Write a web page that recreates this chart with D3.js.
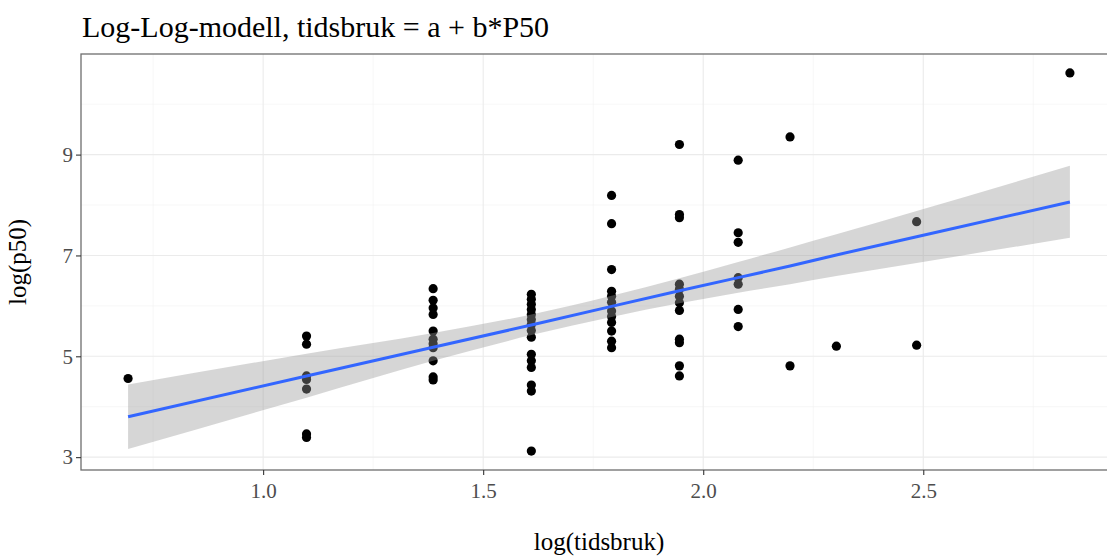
<!DOCTYPE html>
<html>
<head>
<meta charset="utf-8">
<script src="https://cdn.jsdelivr.net/npm/d3@7"></script>
<style>
  body { margin: 0; background: #fff; }
  svg { font-family: "Liberation Serif", "Times New Roman", serif; }
</style>
</head>
<body>
<svg></svg>
<script>
// tidsbruk (minutter) per gruppe, og log(p50) lest av figuren
let tidsbruk = [2, 3, 4, 5, 6, 7, 8, 9, 10, 12, 17];
let logP50 = [
  [4.56],
  [5.40, 5.24, 4.61, 4.54, 4.35, 3.46, 3.39],
  [6.34, 6.11, 5.96, 5.83, 5.50, 5.34, 5.25, 5.17, 4.91, 4.59, 4.53],
  [6.23, 6.13, 6.03, 5.93, 5.83, 5.73, 5.63, 5.51, 5.38, 5.04, 4.91, 4.78, 4.43, 4.31, 3.12],
  [8.19, 7.63, 6.72, 6.29, 6.19, 6.07, 5.90, 5.79, 5.67, 5.50, 5.30, 5.17],
  [9.20, 7.81, 7.75, 6.43, 6.33, 6.19, 6.06, 5.91, 5.34, 5.27, 4.81, 4.61],
  [8.89, 7.45, 7.26, 6.56, 6.43, 5.93, 5.59],
  [9.35, 4.81],
  [5.20],
  [7.67, 5.22],
  [10.62],
];

// regresjonslinje og konfidensbånd, lest av ved hver tidsbruk-gruppe
let fitY = [3.80, 4.61, 5.18, 5.62, 5.99, 6.30, 6.56, 6.79, 7.01, 7.37, 8.06];
let bandLo = [3.16, 4.18, 4.91, 5.42, 5.78, 6.05, 6.26, 6.43, 6.59, 6.85, 7.35];
let bandHi = [4.44, 5.05, 5.46, 5.83, 6.20, 6.55, 6.87, 7.16, 7.42, 7.88, 8.78];

let xTicks = [1.0, 1.5, 2.0, 2.5];
let yTicks = [3, 5, 7, 9];
let xMinor = [0.75, 1.25, 1.75, 2.25, 2.75];
let yMinor = [4, 6, 8, 10];

let title = "Log-Log-modell, tidsbruk = a + b*P50";
let xTitle = "log(tidsbruk)";
let yTitle = "log(p50)";

let width = 1107;
let height = 559;
let panelLeft = 81;
let panelRight = 1117;
let panelTop = 54;
let panelBottom = 470;

let values = [];
tidsbruk.forEach((t, i) => {
  logP50[i].forEach((v) => values.push({ x: Math.log(t), y: v }));
});
let fit = tidsbruk.map((t, i) => ({
  x: Math.log(t),
  y: fitY[i],
  lo: bandLo[i],
  hi: bandHi[i],
}));

let svg = d3.select("svg").attr("width", width).attr("height", height);

let expand = (ext) => {
  let pad = (ext[1] - ext[0]) * 0.05;
  return [ext[0] - pad, ext[1] + pad];
};

let xScale = d3
  .scaleLinear()
  .domain(expand(d3.extent(values, (d) => d.x)))
  .range([panelLeft, panelRight]);
let yScale = d3
  .scaleLinear()
  .domain(expand(d3.extent(values, (d) => d.y)))
  .range([panelBottom, panelTop]);

let grid = svg.append("g");

let vLines = (data, color, w) => {
  grid
    .append("g")
    .selectAll("line")
    .data(data)
    .enter()
    .append("line")
    .attr("x1", (d) => xScale(d))
    .attr("x2", (d) => xScale(d))
    .attr("y1", panelTop)
    .attr("y2", panelBottom)
    .attr("stroke", color)
    .attr("stroke-width", w);
};
let hLines = (data, color, w) => {
  grid
    .append("g")
    .selectAll("line")
    .data(data)
    .enter()
    .append("line")
    .attr("x1", panelLeft)
    .attr("x2", panelRight)
    .attr("y1", (d) => yScale(d))
    .attr("y2", (d) => yScale(d))
    .attr("stroke", color)
    .attr("stroke-width", w);
};
vLines(xMinor, "#f2f2f2", 0.6);
hLines(yMinor, "#f2f2f2", 0.6);
vLines(xTicks, "#ebebeb", 1.1);
hLines(yTicks, "#ebebeb", 1.1);

svg
  .append("g")
  .selectAll("circle")
  .data(values)
  .enter()
  .append("circle")
  .attr("cx", (d) => xScale(d.x))
  .attr("cy", (d) => yScale(d.y))
  .attr("r", 4.6)
  .attr("fill", "#000");

svg
  .append("path")
  .datum(fit)
  .attr(
    "d",
    d3
      .area()
      .curve(d3.curveMonotoneX)
      .x((d) => xScale(d.x))
      .y0((d) => yScale(d.lo))
      .y1((d) => yScale(d.hi))
  )
  .attr("fill", "#999999")
  .attr("fill-opacity", 0.4);

svg
  .append("path")
  .datum(fit)
  .attr(
    "d",
    d3
      .line()
      .x((d) => xScale(d.x))
      .y((d) => yScale(d.y))
  )
  .attr("fill", "none")
  .attr("stroke", "#3366ff")
  .attr("stroke-width", 3);

svg
  .append("rect")
  .attr("x", panelLeft)
  .attr("y", panelTop)
  .attr("width", panelRight - panelLeft)
  .attr("height", panelBottom - panelTop)
  .attr("fill", "none")
  .attr("stroke", "#6e6e6e")
  .attr("stroke-width", 1.3);

let xAxis = d3.axisBottom(xScale).tickValues(xTicks).tickFormat(d3.format(".1f")).tickSize(5).tickSizeOuter(0);
let yAxis = d3.axisLeft(yScale).tickValues(yTicks).tickFormat(d3.format("d")).tickSize(5).tickSizeOuter(0);

let gx = svg
  .append("g")
  .attr("transform", "translate(0," + panelBottom + ")")
  .call(xAxis);
let gy = svg
  .append("g")
  .attr("transform", "translate(" + panelLeft + ",0)")
  .call(yAxis);

[gx, gy].forEach((g) => {
  g.select(".domain").remove();
  g.selectAll(".tick line").attr("stroke", "#333").attr("stroke-width", 1.1);
  g.selectAll(".tick text")
    .attr("fill", "#4d4d4d")
    .style("font-family", "Liberation Serif, serif")
    .style("font-size", "21px");
});
gx.selectAll(".tick text").attr("y", 13);
gy.selectAll(".tick text").attr("x", -8);

svg
  .append("text")
  .attr("x", panelLeft + 1)
  .attr("y", 37)
  .attr("font-size", 30)
  .attr("fill", "#000")
  .text(title);

svg
  .append("text")
  .attr("x", (panelLeft + panelRight) / 2)
  .attr("y", 550)
  .attr("text-anchor", "middle")
  .attr("font-size", 25)
  .attr("fill", "#000")
  .text(xTitle);

svg
  .append("text")
  .attr("transform", "translate(26," + (panelTop + panelBottom) / 2 + ") rotate(-90)")
  .attr("text-anchor", "middle")
  .attr("font-size", 25)
  .attr("fill", "#000")
  .text(yTitle);
</script>
</body>
</html>
